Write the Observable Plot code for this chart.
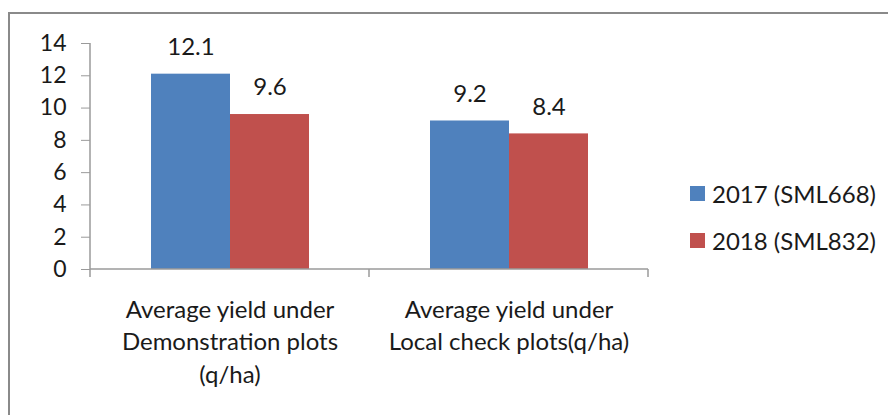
<!DOCTYPE html>
<html>
<head>
<meta charset="utf-8">
<script src="https://cdn.jsdelivr.net/npm/d3@7"></script>
<script src="https://cdn.jsdelivr.net/npm/@observablehq/plot@0.6"></script>
<style>
  body { margin: 0; background: #fff; }
  #wrap { position: relative; width: 888px; height: 415px; overflow: hidden; font-family: Lato, "Open Sans", sans-serif; }
  #border { position: absolute; left: 8px; top: 12px; width: 900px; height: 420px; border: 2px solid #8a8a8a; box-sizing: border-box; }
  #chart { position: absolute; left: 0; top: 0; }
  #legend { position: absolute; left: 690px; top: 178px; font-size: 24px; color: #1a1a1a; }
  .item { display: flex; align-items: center; height: 30px; margin-bottom: 17px; white-space: nowrap; }
  .sw { width: 15px; height: 15px; margin-right: 7px; }
</style>
</head>
<body>
<div id="wrap">
  <div id="border"></div>
  <div id="chart"></div>
  <div id="legend"></div>
</div>
<script>
const categories = ["Average yield under\nDemonstration plots\n(q/ha)", "Average yield under\nLocal check plots(q/ha)"];
const seriesNames = ["2017 (SML668)", "2018 (SML832)"];
const values2017 = [12.1, 9.2];
const values2018 = [9.6, 8.4];
const colors = ["#4F81BD", "#C0504D"];
const yTicks = [0, 2, 4, 6, 8, 10, 12, 14];

const data = [];
categories.forEach((c, i) => {
  data.push({cat: c, series: seriesNames[0], value: values2017[i]});
  data.push({cat: c, series: seriesNames[1], value: values2018[i]});
});

const plot = Plot.plot({
  width: 888,
  height: 415,
  marginLeft: 90,
  marginRight: 240,
  marginTop: 43,
  marginBottom: 146,
  style: {fontFamily: "Lato, 'Open Sans', sans-serif", background: "transparent", overflow: "visible"},
  fx: {domain: categories, padding: 0, label: null},
  x: {domain: seriesNames, paddingInner: 0, paddingOuter: 0.763, axis: null},
  y: {domain: [0, 14], label: null},
  color: {domain: seriesNames, range: colors},
  marks: [
    Plot.barY(data, {fx: "cat", x: "series", y: "value", fill: "series", inset: 0}),
    Plot.text(data, {fx: "cat", x: "series", y: "value", text: d => d.value.toFixed(1), dy: -27, fontSize: 24, fill: "#1a1a1a"}),
    Plot.axisY({ticks: yTicks, tickSize: 9, tickPadding: 15, fontSize: 23, stroke: "#9a9a9a", fill: "#1a1a1a", label: null}),
    Plot.axisFx({anchor: "bottom", tickSize: 0, tickPadding: 26, fontSize: 24, lineHeight: 1.34, fill: "#1a1a1a", label: null})
  ]
});
document.getElementById("chart").appendChild(plot);

// axis lines drawn from the plot's own scales
const svg = d3.select(plot);
const fx = plot.scale("fx");
const y = plot.scale("y");
const x0 = fx.apply(categories[0]);
const y0 = y.apply(0), y14 = y.apply(14);
const g = svg.append("g").attr("stroke", "#9a9a9a").attr("stroke-width", 1.5);
g.append("line").attr("x1", x0).attr("x2", x0).attr("y1", y14).attr("y2", y0 + 8);
const xEnd = fx.apply(categories[categories.length - 1]) + fx.bandwidth;
g.append("line").attr("x1", x0).attr("x2", xEnd).attr("y1", y0).attr("y2", y0);
categories.forEach(c => {
  const xe = fx.apply(c) + fx.bandwidth;
  g.append("line").attr("x1", xe).attr("x2", xe).attr("y1", y0).attr("y2", y0 + 8);
});

const legend = d3.select("#legend");
seriesNames.forEach((s, i) => {
  const it = legend.append("div").attr("class", "item");
  it.append("div").attr("class", "sw").style("background", colors[i]);
  it.append("span").text(s);
});
</script>
</body>
</html>
